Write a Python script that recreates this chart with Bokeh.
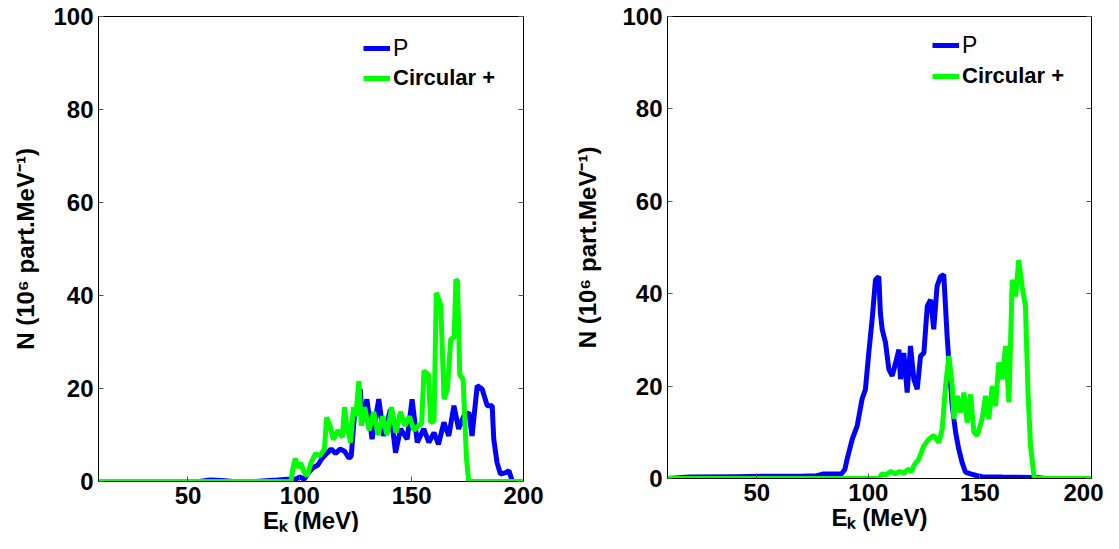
from bokeh.plotting import figure
from bokeh.layouts import row
from bokeh.models import Range1d, LinearAxis, FixedTicker, Legend, LegendItem
from bokeh.embed import file_html
from bokeh.resources import INLINE

# ---- data ----
left_p_e = [10, 55, 60, 65, 70, 80, 90, 95, 98, 100, 102, 104, 106, 108, 110, 112, 114, 116, 118, 120, 122, 123,
            124.5, 126, 127, 128, 130, 132.3, 135.3, 137.5, 140.5, 142.8, 145, 148, 150.2, 152.5, 155.4, 157.7,
            160, 162, 164.4, 166.6, 168.9, 171, 173.3, 175.6, 177, 179.3, 181.5, 183.8, 186, 186.7, 188.2,
            189.7, 192, 193.5, 195, 200]
left_p_v = [0, 0, 0.3, 0.2, 0, 0, 0.3, 0.5, 0.5, 1, 0.5, 2, 3, 3.5, 5, 6, 7, 6, 7, 6.5, 5, 5.5,
            14.8, 16, 19.9, 13, 17.7, 9.1, 17.7, 9.8, 15.5, 6.2, 11.3, 9.1, 17.7, 8.4, 11.3, 8.4,
            10.5, 8, 12.7, 9.8, 16.3, 11.3, 14.1, 14.8, 9.8, 20.6, 19.9, 16.3, 16.3, 9.1, 4,
            1.6, 1.9, 2.3, 0, 0]

left_c_e = [10, 96, 97, 98, 99, 100.3, 102, 103.3, 105, 107, 109, 111, 112, 113.5, 115, 117, 119, 120, 121,
            122.7, 124, 125, 126.4, 127.5, 129, 131, 133, 135, 137, 139, 141, 143, 145, 147, 149, 151, 153,
            154.5, 155.5, 157.5, 158.5, 160, 161, 163, 164.5, 166, 167.5, 169, 169.8, 170.5, 171.5, 173,
            174.5, 175.5, 200]
left_c_v = [0, 0, 3, 5, 3, 4, 2, 1.2, 4, 6, 5.5, 7, 13.8, 12, 9, 11, 9.5, 16, 12,
            8.4, 16, 14, 21.6, 12, 16, 11, 15, 10, 14, 10, 16, 10.5, 15, 12, 14, 11, 12,
            12.5, 23.8, 23, 12.7, 13, 40.6, 38, 17.7, 20, 30.6, 31, 43.5, 43, 23, 22,
            5, 0, 0]

right_p_e = [10, 20, 40, 60, 70, 77, 80, 88, 89.5, 90.5, 92.8, 95, 97.2, 98.7, 100.2, 101.7, 103.2, 104.7,
             105.4, 106.2, 107.7, 109.2, 110.7, 112.2, 113.7, 114.4, 115.9, 117.4, 118.9, 120.4, 121.9,
             123.4, 124.9, 126.4, 127.9, 129.3, 130.8, 132.3, 133.8, 135.3, 136.1, 137.6, 139.1, 140.5,
             142, 143.5, 145.8, 148.8, 151, 160, 175, 180, 200]
right_p_v = [0, 0.3, 0.4, 0.5, 0.5, 0.6, 1, 1, 2, 4.2, 8.5, 11.4, 17.2, 19.3, 27.2, 34.4, 43, 43.7,
             35.8, 32.3, 29.4, 23.6, 22.2, 25, 27.9, 21.5, 27.2, 18.6, 28.7, 21.5, 19.3,
             26.5, 27.2, 37.3, 38.7, 32.3, 41.6, 43.7, 44.1, 30.8, 25.1, 15.7, 10, 6.4,
             3.5, 1.4, 1, 0.6, 0.4, 0.3, 0.2, 0, 0]

right_c_e = [10, 105, 106, 108, 110, 112, 114, 116, 118, 119.5, 120.4, 122.6, 124.9, 127.1, 129.3, 131.6,
             133.1, 134.6, 136.1, 137.6, 138.3, 139.8, 141.3, 142.8, 144.3, 145.8, 147.3, 148.8, 151,
             152.5, 154, 155.5, 157, 158.5, 160, 161.5, 163, 164.5, 166, 167.4, 168.9, 170.4, 171.6,
             172.7, 174.2, 175, 200]
right_c_v = [0, 0, 1, 0.8, 1.5, 1, 1.5, 1.2, 2, 1.5, 2.8, 4.2, 7.1, 8.5, 9.3, 7.8,
             10.7, 20, 26.5, 20, 12.9, 17.9, 14.3, 18.6, 12.1, 18.2, 10, 9.3, 12.9,
             17.9, 12.9, 20, 15.7, 25.1, 21.5, 28.7, 16.5, 43, 39.4, 47.3, 41.6, 37.3, 17.9,
             7.1, 0.6, 0, 0]

x_ticks = [50, 100, 150, 200]
y_ticks = [0, 20, 40, 60, 80, 100]
series_names = ["P", "Circular +"]
colors = ["#0000ff", "#00ff00"]

FONT = "Liberation Sans"


def make_fig(fw, fh, bl, br, bt, pe, pv, ce, cv, leg_x, leg_y_c, leg_y_p, ylab_standoff):
    p = figure(frame_width=fw, frame_height=fh, output_backend="svg", toolbar_location=None,
               x_range=Range1d(10, 200), y_range=Range1d(0, 100),
               min_border_left=bl, min_border_right=br, min_border_top=bt, min_border_bottom=0)
    p.grid.visible = False
    p.outline_line_color = "black"
    p.outline_line_width = 1
    p.background_fill_color = "white"
    p.border_fill_color = "white"

    for ax, ticks in ((p.xaxis[0], x_ticks), (p.yaxis[0], y_ticks)):
        ax.ticker = FixedTicker(ticks=ticks)
        ax.major_tick_in = 5
        ax.major_tick_out = 0
        ax.minor_tick_line_color = None
        ax.axis_line_color = "black"
        ax.major_tick_line_color = "#555555"
        ax.major_label_text_font = FONT
        ax.major_label_text_font_style = "bold"
        ax.major_label_text_font_size = "24px"
        ax.major_label_text_color = "black"
        ax.axis_label_text_font = FONT
        ax.axis_label_text_font_style = "bold"
        ax.axis_label_text_font_size = "24px"
        ax.axis_label_text_color = "black"
    p.xaxis[0].axis_label = "Eₖ (MeV)"
    p.xaxis[0].major_label_standoff = 5
    p.xaxis[0].axis_label_standoff = 0
    p.yaxis[0].axis_label = "N (10⁶ part.MeV⁻¹)"
    p.yaxis[0].major_label_standoff = 5
    p.yaxis[0].axis_label_standoff = ylab_standoff

    rax = LinearAxis(ticker=FixedTicker(ticks=y_ticks), major_tick_in=5, major_tick_out=0,
                     minor_tick_line_color=None, major_label_text_color=None,
                     axis_line_color="black", major_tick_line_color="#555555", major_label_standoff=0)
    p.add_layout(rax, "right")

    r1 = p.line(pe, pv, line_color=colors[0], line_width=5)
    r2 = p.line(ce, cv, line_color=colors[1], line_width=5)

    leg1 = Legend(items=[LegendItem(label=series_names[0], renderers=[r1])],
                  location=(leg_x, leg_y_p), border_line_color=None, background_fill_alpha=0,
                  label_text_font=FONT, label_text_font_size="23px", label_text_font_style="normal",
                  label_text_color="black",
                  glyph_width=27, glyph_height=28, label_height=28, label_standoff=3, padding=4, margin=0,
                  spacing=2)
    leg2 = Legend(items=[LegendItem(label=series_names[1], renderers=[r2])],
                  location=(leg_x, leg_y_c), border_line_color=None, background_fill_alpha=0,
                  label_text_font=FONT, label_text_font_size="22px", label_text_font_style="bold",
                  label_text_color="black",
                  glyph_width=27, glyph_height=28, label_height=28, label_standoff=3, padding=4, margin=0,
                  spacing=2)
    p.add_layout(leg1, "center")
    p.add_layout(leg2, "center")
    return p


p1 = make_fig(425, 465, 98, 30, 12, left_p_e, left_p_v, left_c_e, left_c_v, 265, 389, 419, 11)
p2 = make_fig(424, 462, 114, 12, 16, right_p_e, right_p_v, right_c_e, right_c_v, 265, 388, 419, 18)

layout = row(p1, p2)
open("out.html", "w").write(file_html(layout, INLINE))
